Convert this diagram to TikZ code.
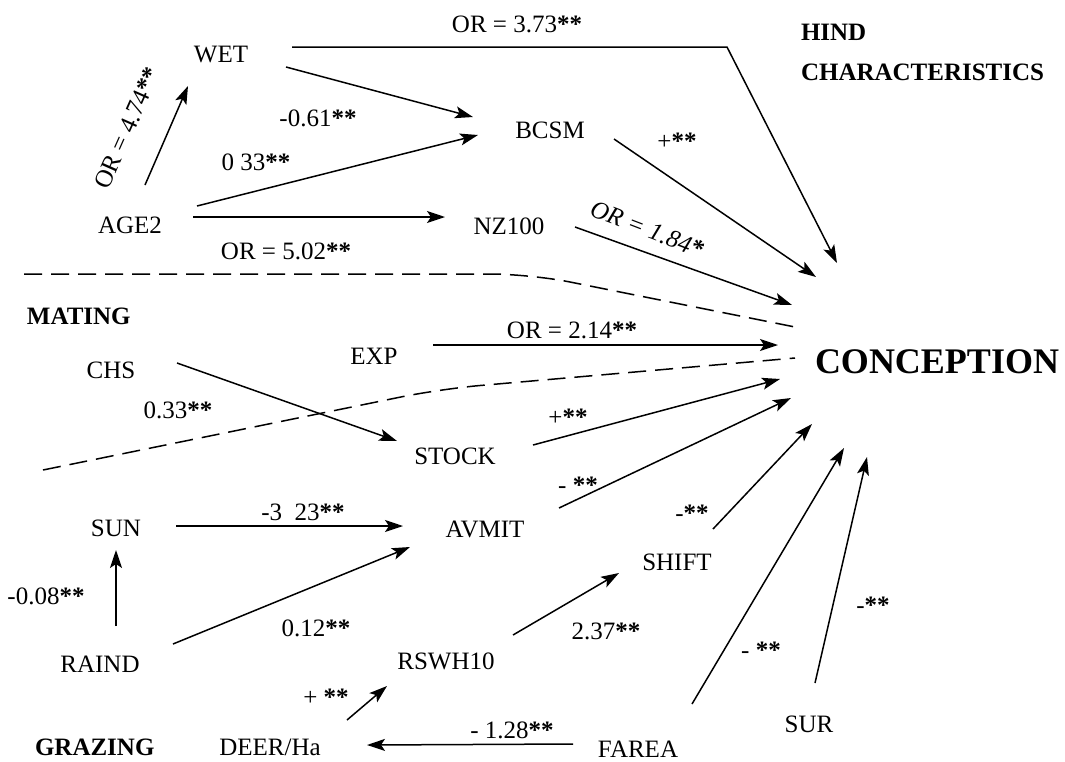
\documentclass[tikz,border=0pt]{standalone}
\usepackage{fontspec}
\setmainfont{Liberation Serif}
\usetikzlibrary{arrows.meta}
\begin{document}
\begin{tikzpicture}[x=1pt,y=-1pt,
  every node/.style={inner sep=0pt,outer sep=0pt,font=\fontsize{25}{30}\selectfont,text height=16.5pt,text depth=0pt},
  var/.style={},
  head/.style={anchor=west,font=\fontsize{25}{30}\selectfont\bfseries},
  lab/.style={},
  arr/.style={line width=1.5pt,-{Stealth[length=18pt,width=12pt,inset=4pt]}},
  zone/.style={line width=1.5pt,dash pattern=on 18pt off 9pt,rounded corners=40pt}
]
\useasboundingbox (0,0) rectangle (1065,761);
% variables
\node[var] (wet) at (221,54) {WET};
\node[var] (age2) at (130,225) {AGE2};
\node[var] (bcsm) at (550,130) {BCSM};
\node[var] (nz) at (509,226) {NZ100};
\node[head] (hind) at (801,32) {HIND};
\node[head] (charac) at (801,72) {CHARACTERISTICS};
\node[head] (mating) at (27,316) {MATING};
\node[var] (chs) at (111,370) {CHS};
\node[var] (exp) at (374,356) {EXP};
\node[var] (stock) at (455,456) {STOCK};
\node[font=\fontsize{36}{40}\selectfont\bfseries,text height=24.3pt] (conc) at (937,361) {CONCEPTION};
\node[var] (sun) at (116,528) {SUN};
\node[var] (avmit) at (485,529) {AVMIT};
\node[var] (raind) at (100,664) {RAIND};
\node[var] (rswh) at (446,661) {RSWH10};
\node[var] (shift) at (677,562) {SHIFT};
\node[head] (grazing) at (35,747) {GRAZING};
\node[var] (deer) at (270,747) {DEER/Ha};
\node[var] (farea) at (638,749) {FAREA};
\node[var] (sur) at (809,724) {SUR};
% zone separators
\draw[zone] (24,274) -- (530,274) -- (795,327);
\draw[zone] (43,470) -- (440,389) -- (795,358);
% connectors
\draw[arr] ([shift={(15,-40)}]age2.center) -- ([shift={(-33,32)}]wet.center);
\draw[arr] ([shift={(65,13)}]wet.center) -- ([shift={(-77,-13)}]bcsm.center);
\draw[arr] ([shift={(67,-19)}]age2.center) -- ([shift={(-72,5)}]bcsm.center);
\draw[arr] ([shift={(63,-8)}]age2.center) -- ([shift={(-64,-9)}]nz.center);
\draw[arr] ([shift={(71,-7)}]wet.center) -- ++(435,0) -- ([shift={(-100,-98)}]conc.center);
\draw[arr] ([shift={(64,9)}]bcsm.center) -- ([shift={(-121,-84)}]conc.center);
\draw[arr] ([shift={(66,1)}]nz.center) -- ([shift={(-145,-56)}]conc.center);
\draw[arr] ([shift={(59,-11)}]exp.center) -- ([shift={(-159,-16)}]conc.center);
\draw[arr] ([shift={(66,-7)}]chs.center) -- ([shift={(-58,-15)}]stock.center);
\draw[arr] ([shift={(78,-11)}]stock.center) -- ([shift={(-157,18)}]conc.center);
\draw[arr] ([shift={(74,-21)}]avmit.center) -- ([shift={(-146,37)}]conc.center);
\draw[arr] ([shift={(36,-33)}]shift.center) -- ([shift={(-125,63)}]conc.center);
\draw[arr] ([shift={(54,-45)}]farea.center) -- ([shift={(-93,87)}]conc.center);
\draw[arr] ([shift={(6,-41)}]sur.center) -- ([shift={(-70,96)}]conc.center);
\draw[arr] ([shift={(60,-2)}]sun.center) -- ([shift={(-82,-3)}]avmit.center);
\draw[arr] ([shift={(16,-38)}]raind.center) -- ([shift={(0,22)}]sun.center);
\draw[arr] ([shift={(73,-20)}]raind.center) -- ([shift={(-75,18)}]avmit.center);
\draw[arr] ([shift={(67,-26)}]rswh.center) -- ([shift={(-58,11)}]shift.center);
\draw[arr] ([shift={(77,-27)}]deer.center) -- ([shift={(-59,25)}]rswh.center);
\draw[arr] ([shift={(-65,-5)}]farea.center) -- ([shift={(97,-2)}]deer.center);
% labels
\node[lab,rotate=66] (l1) at (127,128) {OR = 4.74\textbf{**}};
\node[lab] (l2) at (318,118) {-0.61\textbf{**}};
\node[lab] (l3) at (256,162) {0 33\textbf{**}};
\node[lab] (l4) at (286,251) {OR = 5.02\textbf{**}};
\node[lab] (l5) at (517,24) {OR = 3.73\textbf{**}};
\node[lab] (l6) at (677,141) {+\textbf{**}};
\node[lab,rotate=-21,font=\fontsize{25}{30}\selectfont\itshape] (l7) at (647,229) {OR = 1.84\textbf{*}};
\node[lab] (l8) at (572,330) {OR = 2.14\textbf{**}};
\node[lab] (l9) at (178,410) {0.33\textbf{**}};
\node[lab] (l10) at (568,417) {+\textbf{**}};
\node[lab] (l11) at (578,485) {- \textbf{**}};
\node[lab] (l12) at (692,513) {-\textbf{**}};
\node[lab] (l13) at (303,512) {-3\enspace23\textbf{**}};
\node[lab] (l14) at (46,596) {-0.08\textbf{**}};
\node[lab] (l15) at (316,628) {0.12\textbf{**}};
\node[lab] (l16) at (606,631) {2.37\textbf{**}};
\node[lab] (l17) at (326,697) {+ \textbf{**}};
\node[lab] (l18) at (761,650) {- \textbf{**}};
\node[lab] (l19) at (873,605) {-\textbf{**}};
\node[lab] (l20) at (512,730) {- 1.28\textbf{**}};
\end{tikzpicture}
\end{document}
